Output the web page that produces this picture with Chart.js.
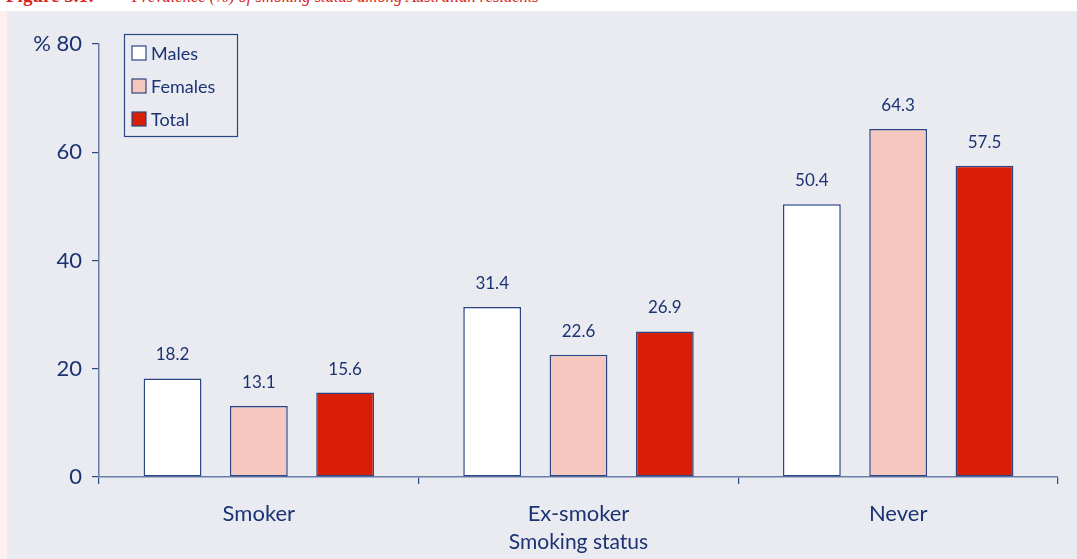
<!DOCTYPE html>
<html>
<head>
<meta charset="utf-8">
<script src="https://cdn.jsdelivr.net/npm/chart.js@4"></script>
<style>
  html, body { margin:0; padding:0; background:#ffffff; width:1077px; height:559px; overflow:hidden; }
  #title { position:absolute; left:6px; top:-14px; font-family:"Liberation Serif","DejaVu Serif",serif; line-height:20px; color:#d9261c; white-space:nowrap; }
  #title b { font-weight:bold; font-size:19px; display:inline-block; width:126px; }
  #title i { font-style:italic; font-size:16.5px; }
  #pink { position:absolute; left:0; top:11px; width:7px; height:548px; background:#fdf0ef; }
  #panel { position:absolute; left:7px; top:11px; width:1070px; height:548px; background:#eaebf1; }
  #wrap { position:absolute; left:0; top:0; width:1077px; height:559px; }
</style>
</head>
<body>
<div id="title"><b>Figure 3.1:</b><i>Prevalence (%) of smoking status among Australian residents</i></div>
<div id="pink"></div>
<div id="panel"></div>
<div id="wrap"><canvas id="c" width="1077" height="559"></canvas></div>
<script>
const categories = ["Smoker", "Ex-smoker", "Never"];
const males = [18.2, 31.4, 50.4];
const females = [13.1, 22.6, 64.3];
const total = [15.6, 26.9, 57.5];
const seriesNames = ["Males", "Females", "Total"];
const yTicks = [0, 20, 40, 60, 80];
const xTitle = "Smoking status";

const NAVY = "#1b3372";
const BORDER = "#2a4684";
const AXIS = "#6a7fa8";
const FONT = "Lato, 'Open Sans', sans-serif";

const valueLabels = {
  id: "valueLabels",
  afterDatasetsDraw(chart) {
    const ctx = chart.ctx;
    ctx.save();
    ctx.fillStyle = NAVY;
    ctx.font = "17px " + FONT;
    ctx.textAlign = "center";
    ctx.textBaseline = "bottom";
    chart.data.datasets.forEach((ds, i) => {
      chart.getDatasetMeta(i).data.forEach((bar, j) => {
        ctx.fillText(ds.data[j].toFixed(1), bar.x, bar.y - 15);
      });
    });
    ctx.restore();
  }
};

const boxLegend = {
  id: "boxLegend",
  afterDraw(chart) {
    const ctx = chart.ctx;
    const left = chart.chartArea.left + 25, top = chart.chartArea.top - 10;
    ctx.save();
    ctx.strokeStyle = BORDER;
    ctx.lineWidth = 1.2;
    ctx.strokeRect(left + 0.5, top + 0.5, 113, 102);
    ctx.font = "18px " + FONT;
    ctx.textBaseline = "middle";
    ctx.textAlign = "left";
    chart.data.datasets.forEach((ds, i) => {
      const cy = top + 19 + i * 33;
      ctx.fillStyle = ds.backgroundColor;
      ctx.fillRect(left + 8, cy - 7, 14, 14);
      ctx.strokeStyle = BORDER;
      ctx.lineWidth = 1.2;
      ctx.strokeRect(left + 8, cy - 7, 14, 14);
      ctx.fillStyle = NAVY;
      ctx.fillText(ds.label, left + 27, cy + 1);
    });
    ctx.restore();
  }
};

const mk = (label, data, color) => ({
  label, data,
  backgroundColor: color,
  borderColor: BORDER,
  borderWidth: 1.5,
  borderSkipped: false,
  categoryPercentage: 0.81,
  barPercentage: 0.67
});

new Chart(document.getElementById("c"), {
  type: "bar",
  data: {
    labels: categories,
    datasets: [
      mk(seriesNames[0], males, "#ffffff"),
      mk(seriesNames[1], females, "#f5c7bf"),
      mk(seriesNames[2], total, "#d81f05")
    ]
  },
  options: {
    responsive: false,
    animation: false,
    events: [],
    layout: { padding: { top: 44, right: 19, left: 0, bottom: 0 } },
    plugins: { legend: { display: false }, tooltip: { enabled: false } },
    scales: {
      x: {
        grid: { display: true, offset: true, drawOnChartArea: false, drawTicks: true, tickLength: 7, color: BORDER, lineWidth: 1.2 },
        border: { display: true, color: AXIS, width: 1.5 },
        ticks: { color: NAVY, font: { family: FONT, size: 22 }, padding: 17 },
        title: { display: true, text: xTitle, color: NAVY, font: { family: FONT, size: 21 }, padding: { top: 0, bottom: 4 } },
        afterFit(s) { s.height = 82; }
      },
      y: {
        min: 0, max: 80,
        afterBuildTicks(s) { s.ticks = yTicks.map(v => ({ value: v })); },
        grid: { display: true, drawOnChartArea: false, drawTicks: true, tickLength: 7, color: BORDER, lineWidth: 1.2 },
        border: { display: true, color: AXIS, width: 1.5 },
        ticks: {
          color: NAVY, font: { family: FONT, size: 22 }, padding: 10,
          callback: v => v === 80 ? "% 80" : String(v)
        },
        afterFit(s) { s.width = 99; }
      }
    }
  },
  plugins: [valueLabels, boxLegend]
});
</script>
</body>
</html>
